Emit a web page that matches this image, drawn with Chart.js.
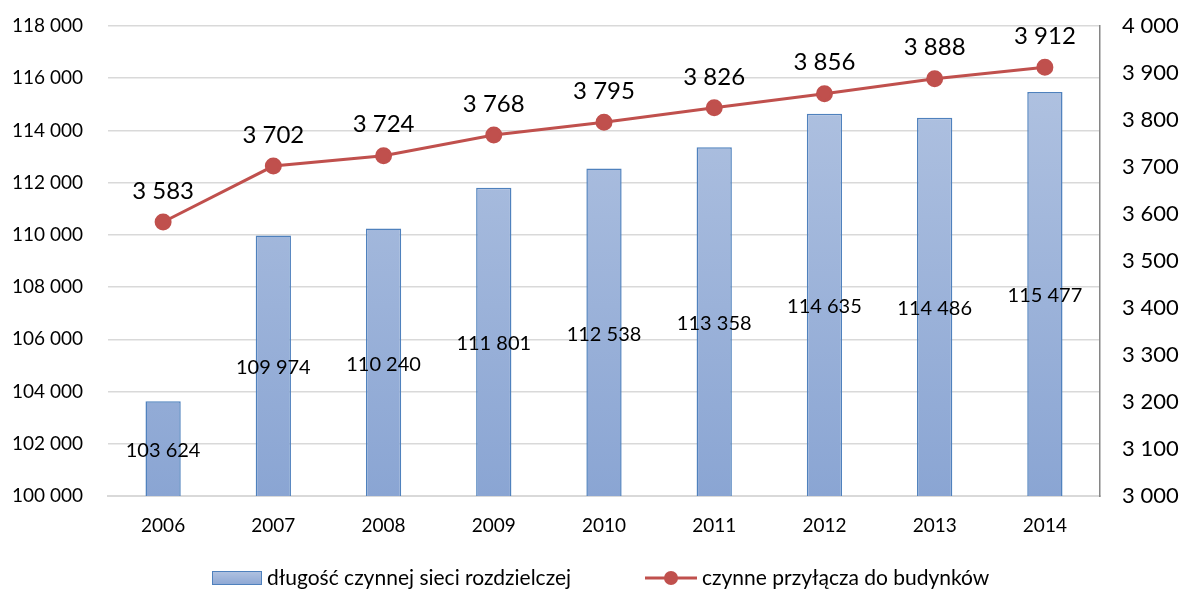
<!DOCTYPE html>
<html>
<head>
<meta charset="utf-8">
<script src="https://cdn.jsdelivr.net/npm/chart.js@4/dist/chart.umd.min.js"></script>
<style>
  html, body { margin: 0; padding: 0; background: #fff; }
  #wrap { width: 1188px; height: 590px; }
</style>
</head>
<body>
<div id="wrap"><canvas id="chart" width="1188" height="590"></canvas></div>
<script>
const years = ["2006", "2007", "2008", "2009", "2010", "2011", "2012", "2013", "2014"];
const networkLength = [103624, 109974, 110240, 111801, 112538, 113358, 114635, 114486, 115477];
const connections = [3583, 3702, 3724, 3768, 3795, 3826, 3856, 3888, 3912];
const leftTicks = [100000, 102000, 104000, 106000, 108000, 110000, 112000, 114000, 116000, 118000];
const rightTicks = [3000, 3100, 3200, 3300, 3400, 3500, 3600, 3700, 3800, 3900, 4000];
const seriesNames = ["długość czynnej sieci rozdzielczej", "czynne przyłącza do budynków"];

const FONT = "Lato, 'Open Sans', sans-serif";
const RED = "#c0504d";
const BLUE_EDGE = "#4f81bd";

function fmt(n) {
  return String(n).replace(/\B(?=(\d{3})+(?!\d))/g, " ");
}

function barFill(ctx) {
  const area = ctx.chart.chartArea;
  if (!area) return "#9fb5da";
  const g = ctx.chart.ctx.createLinearGradient(0, area.top, 0, area.bottom);
  g.addColorStop(0, "#b4c5e2");
  g.addColorStop(1, "#8aa5d3");
  return g;
}

// value labels + legend drawn on the canvas
const labelsPlugin = {
  id: "valueLabels",
  afterDatasetsDraw(chart) {
    const c = chart.ctx;
    const xs = chart.scales.x;
    const ys = chart.scales.y;
    const ys2 = chart.scales.y2;
    c.save();
    c.fillStyle = "#000";
    c.textAlign = "center";
    c.textBaseline = "middle";

    c.font = "20px " + FONT;
    networkLength.forEach((v, i) => {
      const x = xs.getPixelForValue(i);
      const mid = (ys.getPixelForValue(v) + ys.getPixelForValue(ys.min)) / 2;
      c.fillText(fmt(v), x, mid + 2);
    });

    c.font = "24px " + FONT;
    connections.forEach((v, i) => {
      c.fillText(fmt(v), xs.getPixelForValue(i), ys2.getPixelForValue(v) - 31);
    });

    // legend
    const ly = 578;
    const g = c.createLinearGradient(0, ly - 8, 0, ly + 8);
    g.addColorStop(0, "#b4c5e2");
    g.addColorStop(1, "#8aa5d3");
    c.fillStyle = g;
    c.fillRect(212, ly - 7, 50, 14);
    c.strokeStyle = BLUE_EDGE;
    c.lineWidth = 1;
    c.strokeRect(212.5, ly - 6.5, 49, 13);

    c.fillStyle = "#000";
    c.textAlign = "left";
    c.font = "21px " + FONT;
    c.fillText(seriesNames[0], 267, ly);

    c.strokeStyle = RED;
    c.lineWidth = 3;
    c.beginPath();
    c.moveTo(645, ly);
    c.lineTo(697, ly);
    c.stroke();
    c.fillStyle = RED;
    c.beginPath();
    c.arc(671, ly, 7, 0, Math.PI * 2);
    c.fill();

    c.fillStyle = "#000";
    c.fillText(seriesNames[1], 702, ly);
    c.restore();
  }
};

new Chart(document.getElementById("chart"), {
  data: {
    labels: years,
    datasets: [
      {
        type: "bar",
        label: seriesNames[0],
        data: networkLength,
        yAxisID: "y",
        backgroundColor: barFill,
        borderColor: BLUE_EDGE,
        borderWidth: 1.5,
        categoryPercentage: 1,
        barPercentage: 0.32,
        order: 2,
      },
      {
        type: "line",
        label: seriesNames[1],
        data: connections,
        yAxisID: "y2",
        borderColor: RED,
        backgroundColor: RED,
        borderWidth: 3,
        pointRadius: 7,
        pointBackgroundColor: RED,
        pointBorderColor: RED,
        tension: 0,
        order: 1,
      },
    ],
  },
  options: {
    responsive: false,
    animation: false,
    layout: { padding: { top: 26, left: 0, right: 0, bottom: 0 } },
    plugins: { legend: { display: false }, tooltip: { enabled: false } },
    scales: {
      x: {
        grid: { display: false, drawTicks: false },
        border: { color: "#d9d9d9", width: 2 },
        ticks: { color: "#000", font: { size: 19, family: FONT }, padding: 18, maxRotation: 0 },
        afterFit: (s) => { s.height = 94; s.paddingLeft = 0; s.paddingRight = 0; },
      },
      y: {
        position: "left",
        min: 100000,
        max: 118000,
        afterBuildTicks: (s) => { s.ticks = leftTicks.map((v) => ({ value: v })); },
        grid: { color: "#d9d9d9", lineWidth: 1.5, drawTicks: false },
        border: { display: false },
        ticks: { color: "#000", font: { size: 19, family: FONT }, padding: 25, callback: (v) => fmt(v) },
        afterFit: (s) => { s.width = 108; s.paddingTop = 0; s.paddingBottom = 0; },
      },
      y2: {
        position: "right",
        min: 3000,
        max: 4000,
        afterBuildTicks: (s) => { s.ticks = rightTicks.map((v) => ({ value: v })); },
        grid: { display: false, drawTicks: false },
        border: { color: "#868686", width: 1.5 },
        ticks: { color: "#000", font: { size: 22, family: FONT }, padding: 22, callback: (v) => fmt(v) },
        afterFit: (s) => { s.width = 88; s.paddingTop = 0; s.paddingBottom = 0; },
      },
    },
  },
  plugins: [labelsPlugin],
});
</script>
</body>
</html>
